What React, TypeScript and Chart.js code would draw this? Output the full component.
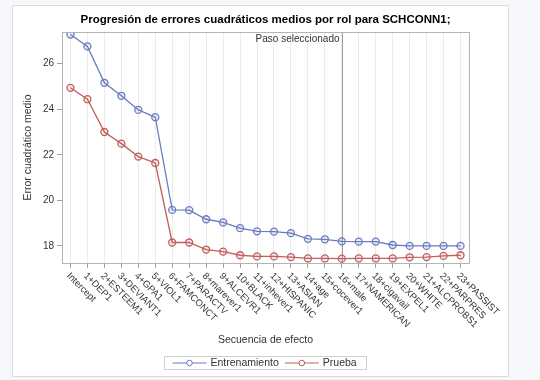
import React, { useEffect, useRef } from "react";
import { Chart, registerables } from "chart.js";

Chart.register(...registerables);

const steps = [
  "Intercept", "1+DEP1", "2+ESTEEM1", "3+DEVIANT1", "4+GPA1", "5+VIOL1",
  "6+FAMCONCT", "7+PARACTV", "8+marever1", "9+ALCEVR1", "10+BLACK", "11+inhever1",
  "12+HISPANIC", "13+ASIAN", "14+age", "15+cocever1", "16+male", "17+NAMERICAN",
  "18+cigavail", "19+EXPEL1", "20+WHITE", "21+ALCPROBS1", "22+PARPRES", "23+PASSIST",
];

const entrenamiento = [
  27.28, 26.76, 25.16, 24.59, 23.97, 23.65, 19.58, 19.57, 19.17, 19.03, 18.78, 18.64,
  18.63, 18.56, 18.31, 18.29, 18.2, 18.19, 18.19, 18.04, 18.0, 18.0, 18.0, 18.0,
];

const prueba = [
  24.94, 24.44, 23.0, 22.49, 21.92, 21.64, 18.15, 18.15, 17.84, 17.75, 17.59, 17.54,
  17.54, 17.51, 17.45, 17.45, 17.44, 17.45, 17.45, 17.45, 17.5, 17.51, 17.56, 17.59,
];

const yTicks = [18, 20, 22, 24, 26];
const selectedStep = 16;

const title = "Progresión de errores cuadráticos medios por rol para SCHCONN1;";
const xTitle = "Secuencia de efecto";
const yTitle = "Error cuadrático medio";
const refLabel = "Paso seleccionado";
const seriesNames = ["Entrenamiento", "Prueba"];

const BLUE = "#6b7cbf";
const RED = "#c0605a";
const FONT = "'Liberation Sans', Arial, sans-serif";
const TEXT = "#333333";

export default function App() {
  const ref = useRef<HTMLCanvasElement | null>(null);

  useEffect(() => {
    const canvas = ref.current;
    if (!canvas) return;

    const decor = {
      id: "decor",
      beforeDraw(chart: any) {
        const ctx = chart.ctx;
        ctx.save();
        ctx.fillStyle = "#f6f7fb";
        ctx.fillRect(0, 0, chart.width, chart.height);
        ctx.fillStyle = "#ffffff";
        ctx.fillRect(12.5, 5.5, 496, 371);
        ctx.strokeStyle = "#dcdcdc";
        ctx.lineWidth = 1;
        ctx.strokeRect(12.5, 5.5, 496, 371);
        ctx.restore();
      },
      beforeDatasetsDraw(chart: any) {
        const ctx = chart.ctx;
        const area = chart.chartArea;
        const xs = chart.scales.x;
        const x = Math.round(xs.getPixelForValue(selectedStep)) + 0.5;
        ctx.save();
        ctx.strokeStyle = "#a0a0a0";
        ctx.lineWidth = 1;
        ctx.beginPath();
        ctx.moveTo(x, area.top);
        ctx.lineTo(x, area.bottom);
        ctx.stroke();
        ctx.fillStyle = TEXT;
        ctx.font = `10px ${FONT}`;
        ctx.textAlign = "right";
        ctx.textBaseline = "middle";
        ctx.fillText(refLabel, x - 3, area.top + 7);
        ctx.restore();
      },
      afterDraw(chart: any) {
        const ctx = chart.ctx;
        const area = chart.chartArea;
        const xs = chart.scales.x;
        ctx.save();
        // plot frame
        ctx.strokeStyle = "#b4b4b4";
        ctx.lineWidth = 1;
        ctx.strokeRect(
          Math.round(area.left) + 0.5,
          Math.round(area.top) + 0.5,
          Math.round(area.right - area.left),
          Math.round(area.bottom - area.top)
        );
        // title
        const cx = (area.left + area.right) / 2;
        ctx.fillStyle = "#000";
        ctx.font = `bold 11.5px ${FONT}`;
        ctx.textAlign = "center";
        ctx.textBaseline = "middle";
        ctx.fillText(title, cx, 20);
        // x labels rotated
        ctx.fillStyle = TEXT;
        ctx.font = `9.5px ${FONT}`;
        steps.forEach((s, i) => {
          const px = xs.getPixelForValue(i);
          ctx.save();
          ctx.translate(px + 1, area.bottom + 8);
          ctx.rotate(Math.PI / 4);
          ctx.textAlign = "left";
          ctx.textBaseline = "top";
          ctx.fillText(s, 0, 0);
          ctx.restore();
        });
        // x title
        ctx.font = `10.5px ${FONT}`;
        ctx.textAlign = "center";
        ctx.textBaseline = "middle";
        ctx.fillText(xTitle, cx, 340);
        // y title
        ctx.save();
        ctx.translate(28, (area.top + area.bottom) / 2);
        ctx.rotate(-Math.PI / 2);
        ctx.font = `10.5px ${FONT}`;
        ctx.fillText(yTitle, 0, 0);
        ctx.restore();
        // legend
        ctx.font = `10.5px ${FONT}`;
        const symW = 34;
        const w0 = ctx.measureText(seriesNames[0]).width;
        const w1 = ctx.measureText(seriesNames[1]).width;
        const totalW = 8 + symW + 4 + w0 + 6 + symW + 6 + w1 + 8;
        const lx = Math.round(cx - totalW / 2) + 0.5;
        const ly = 356.5;
        const lh = 13;
        ctx.strokeStyle = "#cfcfcf";
        ctx.strokeRect(lx, ly, Math.round(totalW), lh);
        const my = ly + lh / 2;
        const drawItem = (x0: number, color: string, label: string) => {
          ctx.strokeStyle = color;
          ctx.lineWidth = 1;
          ctx.beginPath();
          ctx.moveTo(x0, my);
          ctx.lineTo(x0 + symW, my);
          ctx.stroke();
          ctx.beginPath();
          ctx.arc(x0 + symW / 2, my, 2.8, 0, Math.PI * 2);
          ctx.fillStyle = "#fff";
          ctx.fill();
          ctx.stroke();
          ctx.fillStyle = TEXT;
          ctx.textAlign = "left";
          ctx.textBaseline = "middle";
          ctx.fillText(label, x0 + symW + 4, my + 0.5);
        };
        drawItem(lx + 8, BLUE, seriesNames[0]);
        drawItem(lx + 8 + symW + 4 + w0 + 6, RED, seriesNames[1]);
        ctx.restore();
      },
    };

    const chart = new Chart(canvas, {
      type: "line",
      data: {
        labels: steps,
        datasets: [
          {
            label: seriesNames[0],
            data: entrenamiento,
            borderColor: BLUE,
            backgroundColor: "rgba(255,255,255,0)",
            borderWidth: 1.3,
            pointRadius: 3.5,
            pointBorderWidth: 1.3,
            pointBorderColor: BLUE,
            pointBackgroundColor: "rgba(107,124,191,0.12)",
            tension: 0,
          },
          {
            label: seriesNames[1],
            data: prueba,
            borderColor: RED,
            backgroundColor: "rgba(255,255,255,0)",
            borderWidth: 1.3,
            pointRadius: 3.5,
            pointBorderWidth: 1.3,
            pointBorderColor: RED,
            pointBackgroundColor: "rgba(192,96,90,0.12)",
            tension: 0,
          },
        ],
      },
      options: {
        responsive: false,
        animation: false,
        devicePixelRatio: 1,
        layout: { padding: { top: 32, right: 71, left: 0, bottom: 0 } },
        plugins: {
          legend: { display: false },
          title: { display: false },
          tooltip: { enabled: false },
        },
        scales: {
          x: {
            type: "category",
            offset: true,
            grid: {
              offset: false,
              color: "#ebebeb",
              drawTicks: true,
              tickLength: 5,
              tickColor: "#a0a0a0",
            },
            border: { display: false },
            ticks: { display: false },
            afterFit: (scale: any) => {
              scale.height = 117;
            },
          },
          y: {
            type: "linear",
            min: 17.25,
            max: 27.39,
            grid: {
              drawOnChartArea: false,
              drawTicks: true,
              tickLength: 5,
              tickColor: "#a0a0a0",
            },
            border: { display: false },
            ticks: {
              color: TEXT,
              font: { family: FONT, size: 10 },
              padding: 3,
            },
            afterBuildTicks: (scale: any) => {
              scale.ticks = yTicks.map((v) => ({ value: v }));
            },
            afterFit: (scale: any) => {
              scale.width = 62;
            },
          },
        },
      },
      plugins: [decor],
    });

    return () => chart.destroy();
  }, []);

  return (
    <div style={{ position: "fixed", left: 0, top: 0, width: 540, height: 380 }}>
      <canvas ref={ref} width={540} height={380} style={{ display: "block" }} />
    </div>
  );
}
